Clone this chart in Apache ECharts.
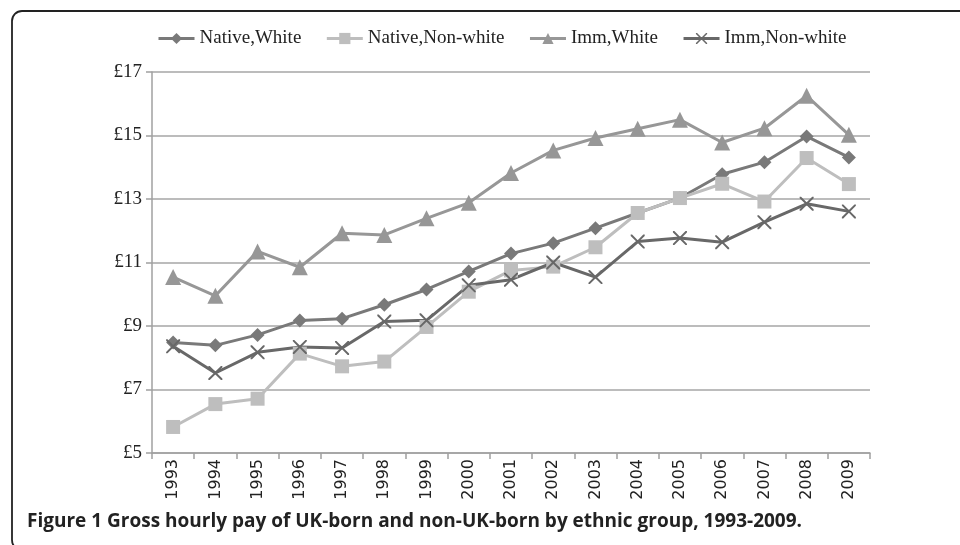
<!DOCTYPE html>
<html>
<head>
<meta charset="utf-8">
<script src="https://cdn.jsdelivr.net/npm/echarts@6/dist/echarts.min.js"></script>
<style>
html,body{margin:0;padding:0;background:#fff;}
#chart{width:960px;height:545px;}
</style>
</head>
<body>
<div id="chart"></div>
<script>
var years = ['1993','1994','1995','1996','1997','1998','1999','2000','2001','2002','2003','2004','2005','2006','2007','2008','2009'];
var nativeWhite    = [8.48, 8.39, 8.72, 9.17, 9.23, 9.67, 10.15, 10.72, 11.28, 11.61, 12.08, 12.56, 13.03, 13.78, 14.16, 14.97, 14.31];
var nativeNonWhite = [5.82, 6.54, 6.71, 8.13, 7.73, 7.88, 8.97, 10.08, 10.75, 10.87, 11.48, 12.56, 13.03, 13.48, 12.92, 14.29, 13.47];
var immWhite       = [10.54, 9.95, 11.35, 10.85, 11.92, 11.87, 12.39, 12.88, 13.82, 14.53, 14.92, 15.21, 15.5, 14.78, 15.23, 16.25, 15.02];
var immNonWhite    = [8.36, 7.52, 8.17, 8.34, 8.31, 9.14, 9.18, 10.28, 10.46, 11.0, 10.54, 11.66, 11.77, 11.64, 12.27, 12.85, 12.61];
var seriesNames = ['Native,White', 'Native,Non-white', 'Imm,White', 'Imm,Non-white'];
var yTicks = {min: 5, max: 17, step: 2};
var caption = 'Figure 1 Gross hourly pay of UK-born and non-UK-born by ethnic group, 1993-2009.';

var crossPath = 'path://M0,0L2,0L10,8L18,0L20,0L20,2L12,10L20,18L20,20L18,20L10,12L2,20L0,20L0,18L8,10L0,2Z';

function mkSeries(name, data, color, symbol, size) {
  return {
    name: name, type: 'line', data: data,
    symbol: symbol, symbolSize: size,
    lineStyle: {color: color, width: 3},
    itemStyle: {color: color},
    emphasis: {disabled: true},
    animation: false
  };
}

var chart = echarts.init(document.getElementById('chart'));
chart.setOption({
  animation: false,
  legend: {
    top: 24, left: 152,
    itemWidth: 36, itemHeight: 14, itemGap: 24,
    lineStyle: {width: 3},
    textStyle: {fontFamily: 'Liberation Serif', fontSize: 19, color: '#222'},
    data: seriesNames
  },
  grid: {left: 152, right: 90, top: 72, bottom: 92},
  xAxis: {
    type: 'category', data: years, boundaryGap: true,
    axisLine: {lineStyle: {color: '#a0a0a0', width: 1.5}},
    axisTick: {show: true, length: 6, lineStyle: {color: '#a0a0a0', width: 1.5}},
    axisLabel: {rotate: 90, margin: 6, fontFamily: 'DejaVu Sans', fontSize: 16, color: '#222', interval: 0}
  },
  yAxis: {
    type: 'value', min: yTicks.min, max: yTicks.max, interval: yTicks.step,
    axisLine: {show: true, lineStyle: {color: '#a0a0a0', width: 1.5}},
    axisTick: {show: true, length: 6, lineStyle: {color: '#a0a0a0', width: 1.5}},
    axisLabel: {formatter: '£{value}', fontFamily: 'Liberation Serif', fontSize: 19, color: '#222', margin: 10},
    splitLine: {lineStyle: {color: '#a6a6a6', width: 1.5}}
  },
  series: [
    mkSeries(seriesNames[0], nativeWhite, '#797979', 'diamond', 14),
    mkSeries(seriesNames[1], nativeNonWhite, '#bebebe', 'rect', 14),
    mkSeries(seriesNames[2], immWhite, '#979797', 'triangle', 16),
    mkSeries(seriesNames[3], immNonWhite, '#686868', crossPath, 14)
  ],
  graphic: [
    {type: 'rect', silent: true, shape: {x: 12, y: 11, width: 1000, height: 539, r: 10},
     style: {fill: 'none', stroke: '#222', lineWidth: 1.8}},
    {type: 'text', silent: true, left: 27, top: 512,
     style: {text: caption, fontFamily: 'Open Sans', fontWeight: 'bold', fontSize: 19, fill: '#222'}}
  ]
});
</script>
</body>
</html>
